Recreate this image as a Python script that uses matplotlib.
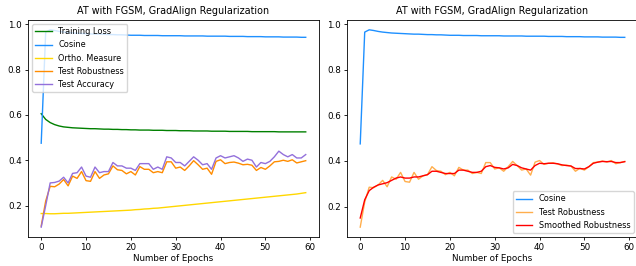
import numpy as np
from matplotlib import pyplot as plt

epochs = np.arange(60)

training_loss = [
    0.605, 0.580, 0.566, 0.557, 0.551, 0.547, 0.545, 0.543, 0.542, 0.541,
    0.540, 0.539, 0.539, 0.538, 0.537, 0.537, 0.536, 0.536, 0.535, 0.535,
    0.534, 0.534, 0.533, 0.533, 0.533, 0.532, 0.532, 0.532, 0.531, 0.531,
    0.531, 0.530, 0.530, 0.530, 0.529, 0.529, 0.529, 0.529, 0.528, 0.528,
    0.528, 0.528, 0.527, 0.527, 0.527, 0.527, 0.527, 0.526, 0.526, 0.526,
    0.526, 0.526, 0.526, 0.525, 0.525, 0.525, 0.525, 0.525, 0.525, 0.525,
]
cosine = [
    0.475, 0.965, 0.975, 0.972, 0.968, 0.965, 0.963, 0.961, 0.960, 0.959,
    0.958, 0.957, 0.956, 0.956, 0.955, 0.954, 0.954, 0.953, 0.953, 0.952,
    0.951, 0.951, 0.951, 0.950, 0.950, 0.950, 0.950, 0.949, 0.949, 0.949,
    0.949, 0.949, 0.948, 0.948, 0.948, 0.948, 0.948, 0.947, 0.947, 0.947,
    0.947, 0.947, 0.946, 0.946, 0.946, 0.946, 0.945, 0.945, 0.945, 0.945,
    0.944, 0.944, 0.944, 0.944, 0.943, 0.943, 0.943, 0.943, 0.942, 0.942,
]
ortho = [
    0.165, 0.165, 0.164, 0.164, 0.165, 0.166, 0.166, 0.167, 0.168, 0.169,
    0.170, 0.171, 0.172, 0.173, 0.174, 0.175, 0.176, 0.177, 0.178, 0.179,
    0.180, 0.182, 0.183, 0.185, 0.186, 0.188, 0.189, 0.191, 0.193, 0.195,
    0.197, 0.199, 0.201, 0.203, 0.205, 0.207, 0.209, 0.211, 0.213, 0.215,
    0.217, 0.219, 0.221, 0.223, 0.225, 0.227, 0.229, 0.231, 0.233, 0.235,
    0.237, 0.239, 0.241, 0.243, 0.245, 0.247, 0.249, 0.251, 0.254, 0.257,
]
test_robustness = [
    0.110, 0.220, 0.285, 0.283, 0.295, 0.315, 0.287, 0.330, 0.320, 0.350,
    0.310, 0.307, 0.350, 0.320, 0.335, 0.340, 0.375, 0.358, 0.355, 0.340,
    0.350, 0.335, 0.372, 0.360, 0.360, 0.345, 0.350, 0.345, 0.393, 0.393,
    0.365, 0.370, 0.355, 0.375, 0.398, 0.380, 0.360, 0.365, 0.338, 0.395,
    0.402, 0.385, 0.390, 0.392, 0.387, 0.380, 0.382, 0.378, 0.355, 0.368,
    0.360, 0.375, 0.393, 0.395, 0.400, 0.395, 0.402, 0.388, 0.393, 0.398,
]
test_accuracy = [
    0.105, 0.200, 0.300, 0.302, 0.308, 0.325, 0.300, 0.342, 0.345, 0.370,
    0.330, 0.325, 0.370, 0.345, 0.350, 0.350, 0.390, 0.375, 0.375, 0.365,
    0.365, 0.355, 0.385, 0.385, 0.385, 0.360, 0.370, 0.360, 0.415, 0.410,
    0.390, 0.390, 0.375, 0.395, 0.415, 0.400, 0.380, 0.385, 0.360, 0.410,
    0.420, 0.410, 0.415, 0.420, 0.410, 0.395, 0.405, 0.400, 0.370, 0.390,
    0.385, 0.395, 0.415, 0.440, 0.425, 0.415, 0.425, 0.410, 0.410, 0.425,
]
smoothed_robustness = [
    0.150, 0.230, 0.270, 0.285, 0.295, 0.300, 0.305, 0.315, 0.325, 0.330,
    0.325, 0.325, 0.330, 0.330, 0.335, 0.340, 0.355, 0.355, 0.350, 0.345,
    0.345, 0.345, 0.360, 0.360, 0.355, 0.350, 0.350, 0.355, 0.375, 0.380,
    0.372, 0.370, 0.365, 0.370, 0.385, 0.380, 0.370, 0.365, 0.360, 0.380,
    0.390, 0.388, 0.390, 0.390, 0.388, 0.383, 0.380, 0.378, 0.367, 0.367,
    0.365, 0.375, 0.390, 0.395, 0.398, 0.397, 0.398, 0.393, 0.393, 0.397,
]

title = "AT with FGSM, GradAlign Regularization"
fs = 6.3
lw = 1.0

fig = plt.figure(figsize=(6.36, 2.66), dpi=100)
ax1 = fig.add_axes([0.044, 0.109, 0.4575, 0.816])
ax2 = fig.add_axes([0.5456, 0.109, 0.4575, 0.816])

ax1.plot(epochs, training_loss, color="green", lw=lw, label="Training Loss")
ax1.plot(epochs, cosine, color="dodgerblue", lw=lw, label="Cosine")
ax1.plot(epochs, ortho, color="gold", lw=lw, label="Ortho. Measure")
ax1.plot(epochs, test_robustness, color="darkorange", lw=lw, label="Test Robustness")
ax1.plot(epochs, test_accuracy, color="mediumpurple", lw=lw, label="Test Accuracy")
ax1.legend(loc="upper left", fontsize=5.9)

ax2.plot(epochs, cosine, color="dodgerblue", lw=lw, label="Cosine")
ax2.plot(epochs, test_robustness, color="darkorange", lw=lw, alpha=0.7, label="Test Robustness")
ax2.plot(epochs, smoothed_robustness, color="red", lw=lw, label="Smoothed Robustness")
ax2.legend(loc="lower right", fontsize=5.9)

for ax in (ax1, ax2):
    ax.set_title(title, fontsize=6.95, pad=4)
    ax.set_xlabel("Number of Epochs", fontsize=fs, labelpad=1.5)
    ax.set_xticks([0, 10, 20, 30, 40, 50, 60])
    ax.set_yticks([0.2, 0.4, 0.6, 0.8, 1.0])
    ax.tick_params(labelsize=fs, length=2.5, width=0.6, pad=2)
    for s in ax.spines.values():
        s.set_linewidth(0.6)

plt.savefig("out.png", dpi=100)
plt.close()
